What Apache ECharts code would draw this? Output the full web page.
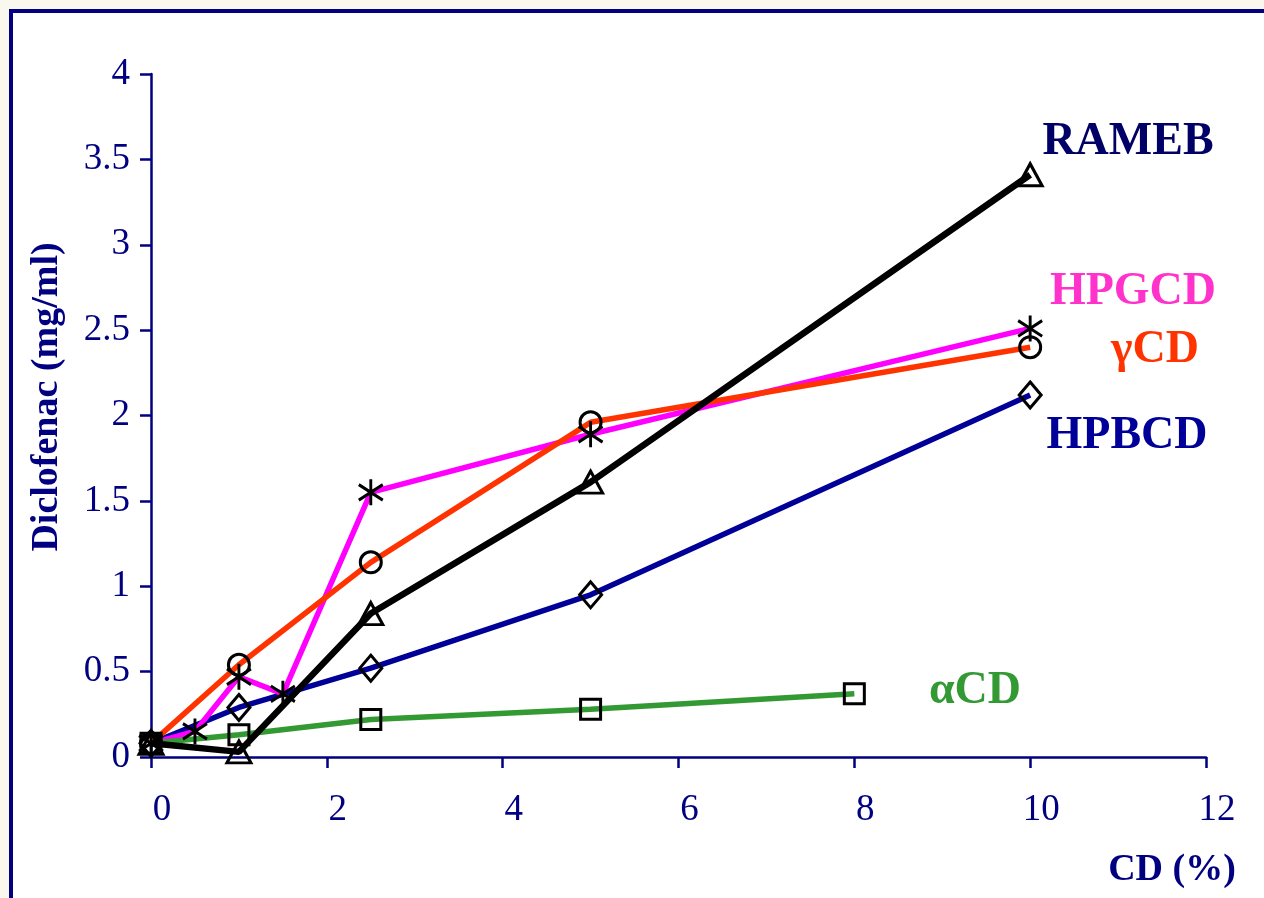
<!DOCTYPE html>
<html>
<head>
<meta charset="utf-8">
<script src="https://cdn.jsdelivr.net/npm/echarts@6/dist/echarts.min.js"></script>
<style>
  html, body { margin: 0; padding: 0; background: #f9f7ee; }
  #frame { position: absolute; left: 9px; top: 9px; width: 1400px; height: 1000px;
           border-left: 4px solid #000080; border-top: 4px solid #000080; background: #ffffff; }
  #chart { position: absolute; left: 0; top: 0; width: 1264px; height: 898px; }
  body { width: 1264px; height: 898px; overflow: hidden; }
</style>
</head>
<body>
<div id="frame"></div>
<div id="chart"></div>
<script>
// Solubility of diclofenac versus cyclodextrin concentration
const xTicks = [0, 2, 4, 6, 8, 10, 12];
const yTicks = [0, 0.5, 1, 1.5, 2, 2.5, 3, 3.5, 4];

const hpbcdX = [0, 1, 2.5, 5, 10];
const hpbcdY = [0.08, 0.29, 0.52, 0.95, 2.12];

const gcdX = [0, 1, 2.5, 5, 10];
const gcdY = [0.08, 0.54, 1.14, 1.96, 2.40];

const hpgcdX = [0, 0.5, 1, 1.5, 2.5, 5, 10];
const hpgcdY = [0.08, 0.15, 0.47, 0.37, 1.55, 1.89, 2.51];

const acdX = [0, 1, 2.5, 5, 8];
const acdY = [0.08, 0.13, 0.22, 0.28, 0.37];

const ramebX = [0, 1, 2.5, 5, 10];
const ramebY = [0.08, 0.03, 0.84, 1.61, 3.41];

const NAVY = '#000080';
const SERIF = '"Liberation Serif", "Times New Roman", serif';
const STAR = 'path://M0,-10 L0,10 M-9,-6 L9,6 M-9,6 L9,-6';

function pairs(xs, ys) { return xs.map((x, i) => [x, ys[i]]); }

function lineSeries(name, xs, ys, color, width, symbol, size) {
  return {
    name: name,
    type: 'line',
    data: pairs(xs, ys),
    symbol: symbol,
    symbolSize: size,
    showAllSymbol: true,
    lineStyle: { color: color, width: width },
    itemStyle: { color: 'rgba(0,0,0,0)', borderColor: '#000', borderWidth: 3 },
    emphasis: { disabled: true },
    animation: false,
    z: 3
  };
}

const chart = echarts.init(document.getElementById('chart'), null, { renderer: 'canvas' });

chart.setOption({
  backgroundColor: 'transparent',
  animation: false,
  grid: { left: 151, top: 74, right: 58, bottom: 141, containLabel: false },
  xAxis: {
    type: 'value', min: xTicks[0], max: xTicks[xTicks.length - 1], interval: 2,
    axisLine: { show: true, lineStyle: { color: NAVY, width: 2.5 } },
    axisTick: { show: true, length: 11, lineStyle: { color: NAVY, width: 2.5 } },
    splitLine: { show: false },
    axisLabel: { color: NAVY, fontFamily: SERIF, fontSize: 37, margin: 35, padding: [0, 0, 0, 22] }
  },
  yAxis: {
    type: 'value', min: yTicks[0], max: yTicks[yTicks.length - 1], interval: 0.5,
    axisLine: { show: true, lineStyle: { color: NAVY, width: 2.5 } },
    axisTick: { show: true, length: 11, lineStyle: { color: NAVY, width: 2.5 } },
    splitLine: { show: false },
    axisLabel: { color: NAVY, fontFamily: SERIF, fontSize: 37, margin: 21 }
  },
  series: [
    lineSeries('HPBCD', hpbcdX, hpbcdY, '#000099', 5.5, 'diamond', [22, 26]),
    lineSeries('HPGCD', hpgcdX, hpgcdY, '#ff00ff', 5.5, STAR, [24, 26]),
    lineSeries('γCD', gcdX, gcdY, '#ff3300', 5.5, 'circle', 21),
    lineSeries('αCD', acdX, acdY, '#339933', 5.5, 'rect', 20),
    lineSeries('RAMEB', ramebX, ramebY, '#000000', 6.5, 'triangle', [24, 22])
  ],
  graphic: [
    { type: 'text', x: 1128, y: 142, style: { text: 'RAMEB', fill: '#000066', font: 'bold 46px ' + SERIF, textAlign: 'center', textVerticalAlign: 'middle' } },
    { type: 'text', x: 1133, y: 292, style: { text: 'HPGCD', fill: '#ff33cc', font: 'bold 46px ' + SERIF, textAlign: 'center', textVerticalAlign: 'middle' } },
    { type: 'text', x: 1155, y: 350, style: { text: 'γCD', fill: '#ff3300', font: 'bold 46px ' + SERIF, textAlign: 'center', textVerticalAlign: 'middle' } },
    { type: 'text', x: 1127, y: 436, style: { text: 'HPBCD', fill: '#000099', font: 'bold 46px ' + SERIF, textAlign: 'center', textVerticalAlign: 'middle' } },
    { type: 'text', x: 975, y: 691, style: { text: 'αCD', fill: '#339933', font: 'bold 46px ' + SERIF, textAlign: 'center', textVerticalAlign: 'middle' } },
    { type: 'text', x: 1172, y: 870, style: { text: 'CD (%)', fill: NAVY, font: 'bold 38px ' + SERIF, textAlign: 'center', textVerticalAlign: 'middle' } },
    { type: 'text', x: 47, y: 397, rotation: Math.PI / 2, style: { text: 'Diclofenac (mg/ml)', fill: NAVY, font: 'bold 38px ' + SERIF, textAlign: 'center', textVerticalAlign: 'middle' } }
  ]
});
</script>
</body>
</html>
